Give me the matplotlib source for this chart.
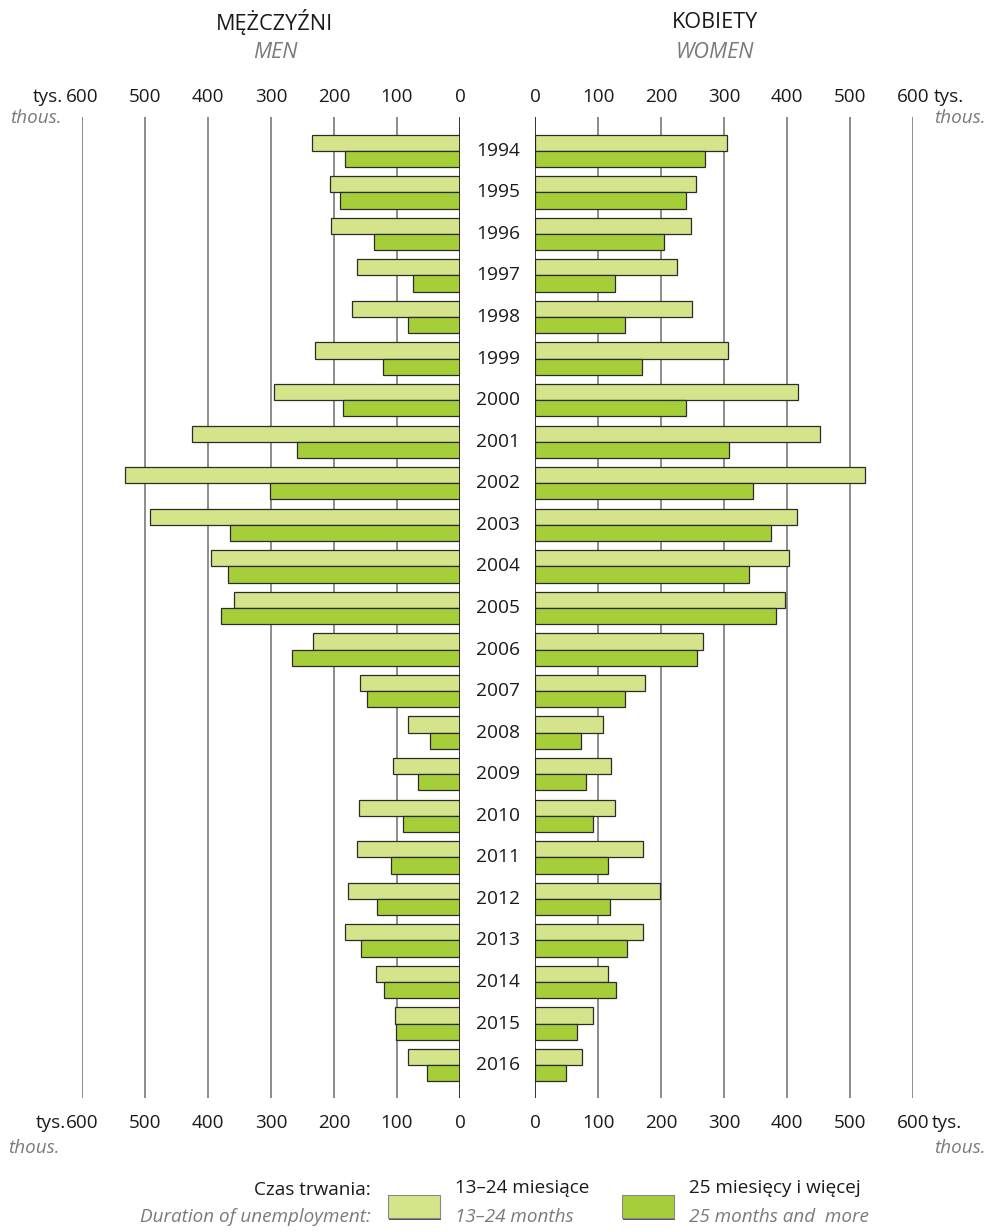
import numpy as np
import matplotlib
matplotlib.use("Agg")
import matplotlib.pyplot as plt
import matplotlib.transforms as mtransforms
from matplotlib.patches import Rectangle

plt.rcParams['font.family'] = ['Open Sans', 'DejaVu Sans']

years = list(range(1994, 2017))

# mezczyzni / men, tys.
men_13_24 = [235, 206, 204, 164, 172, 230, 295, 425, 531, 492, 396, 359,
             234, 159, 83, 106, 161, 164, 178, 182, 133, 103, 82]
men_25 = [182, 190, 136, 75, 83, 123, 185, 259, 302, 365, 368, 379,
          267, 148, 47, 66, 91, 110, 132, 157, 120, 101, 53]

# kobiety / women, tys.
women_13_24 = [305, 256, 247, 226, 249, 306, 417, 453, 524, 416, 403, 397,
               267, 174, 107, 121, 127, 172, 199, 172, 116, 91, 75]
women_25 = [269, 239, 205, 127, 143, 169, 239, 308, 346, 374, 339, 382,
            257, 143, 72, 80, 91, 115, 118, 146, 129, 67, 49]

ticks = [0, 100, 200, 300, 400, 500, 600]

LIGHT = '#d4e48a'
DARK = '#a6ce39'
EDGE = '#2b2b2b'
GRAY = '#7a7a7a'
TXT = '#1a1a1a'

W, H = 992, 1232
fig = plt.figure(figsize=(W / 100, H / 100), dpi=100)


def fx(x):
    return x / W


def fy(y):
    return 1 - y / H


top_px, bot_px = 117, 1098
first_c, step = 150.8, 41.56
y0 = (top_px - first_c) / step
y1 = (bot_px - first_c) / step

axL = fig.add_axes([fx(82), fy(bot_px), fx(460 - 82), (bot_px - top_px) / H])
axR = fig.add_axes([fx(535.3), fy(bot_px), fx(912.7 - 535.3), (bot_px - top_px) / H])

pos = np.arange(len(years))
bh = 0.39

for ax, light, dark in [(axL, men_13_24, men_25), (axR, women_13_24, women_25)]:
    ax.barh(pos - bh / 2, light, height=bh, color=LIGHT, edgecolor=EDGE, linewidth=0.9, zorder=3)
    ax.barh(pos + bh / 2, dark, height=bh, color=DARK, edgecolor=EDGE, linewidth=0.9, zorder=3)
    ax.set_ylim(y1, y0)
    ax.set_yticks([])
    ax.set_xticks([])
    for t in ticks[1:]:
        ax.axvline(t, color='#6e6e6e', lw=1.1, zorder=1)
    for s in ax.spines.values():
        s.set_visible(False)
    ax.set_facecolor('none')

axL.set_xlim(600, 0)
axR.set_xlim(0, 600)
axL.axvline(0, color='#222222', lw=1.3, zorder=4)
axR.axvline(0, color='#222222', lw=1.3, zorder=4)

# tick numbers above and below the panels
for ax in (axL, axR):
    trx = mtransforms.blended_transform_factory(ax.transData, fig.transFigure)
    for t in ticks:
        for yb in (102, 1128):
            ax.text(t, fy(yb), str(t), transform=trx, ha='center', va='baseline',
                    fontsize=13.6, color=TXT)

# year labels in the middle
tr = mtransforms.blended_transform_factory(fig.transFigure, axL.transData)
for i, yr in enumerate(years):
    fig.text(fx(498), i, str(yr), transform=tr, ha='center', va='center',
             fontsize=13.8, color=TXT)

# titles
fig.text(fx(275), fy(22), 'MĘŻCZYŹNI', ha='center', va='center', fontsize=15.6, color=TXT)
fig.text(fx(275), fy(52), 'MEN', ha='center', va='center', fontsize=15.6, color=GRAY, style='italic')
fig.text(fx(715), fy(22), 'KOBIETY', ha='center', va='center', fontsize=15.6, color=TXT)
fig.text(fx(715), fy(52), 'WOMEN', ha='center', va='center', fontsize=15.6, color=GRAY, style='italic')

# units
fig.text(fx(63), fy(102), 'tys.', ha='right', va='baseline', fontsize=13.6, color=TXT)
fig.text(fx(62), fy(123), 'thous.', ha='right', va='baseline', fontsize=13.6, color=GRAY, style='italic')
fig.text(fx(934), fy(102), 'tys.', ha='left', va='baseline', fontsize=13.6, color=TXT)
fig.text(fx(986), fy(123), 'thous.', ha='right', va='baseline', fontsize=13.6, color=GRAY, style='italic')
fig.text(fx(66), fy(1128), 'tys.', ha='right', va='baseline', fontsize=13.6, color=TXT)
fig.text(fx(8), fy(1153), 'thous.', ha='left', va='baseline', fontsize=13.6, color=GRAY, style='italic')
fig.text(fx(932), fy(1128), 'tys.', ha='left', va='baseline', fontsize=13.6, color=TXT)
fig.text(fx(986), fy(1153), 'thous.', ha='right', va='baseline', fontsize=13.6, color=GRAY, style='italic')

# legend
fig.text(fx(371), fy(1190), 'Czas trwania:', ha='right', va='center', fontsize=13.6, color=TXT)
fig.text(fx(371), fy(1217), 'Duration of unemployment:', ha='right', va='center', fontsize=13.6,
         color=GRAY, style='italic')
for x0, col, pl, en in [(388, LIGHT, '13–24 miesiące', '13–24 months'),
                        (622, DARK, '25 miesięcy i więcej', '25 months and  more')]:
    fig.patches.append(Rectangle((fx(x0 + 1), fy(1220)), fx(52), 23 / H, transform=fig.transFigure,
                                 facecolor='#555555', edgecolor='none'))
    fig.patches.append(Rectangle((fx(x0), fy(1218)), fx(52), 23 / H, transform=fig.transFigure,
                                 facecolor=col, edgecolor='#888888', linewidth=0.8))
    fig.text(fx(x0 + 67), fy(1188), pl, ha='left', va='center', fontsize=13.6, color=TXT)
    fig.text(fx(x0 + 67), fy(1217), en, ha='left', va='center', fontsize=13.6, color=GRAY,
             style='italic')

fig.savefig('out.png', dpi=100)
